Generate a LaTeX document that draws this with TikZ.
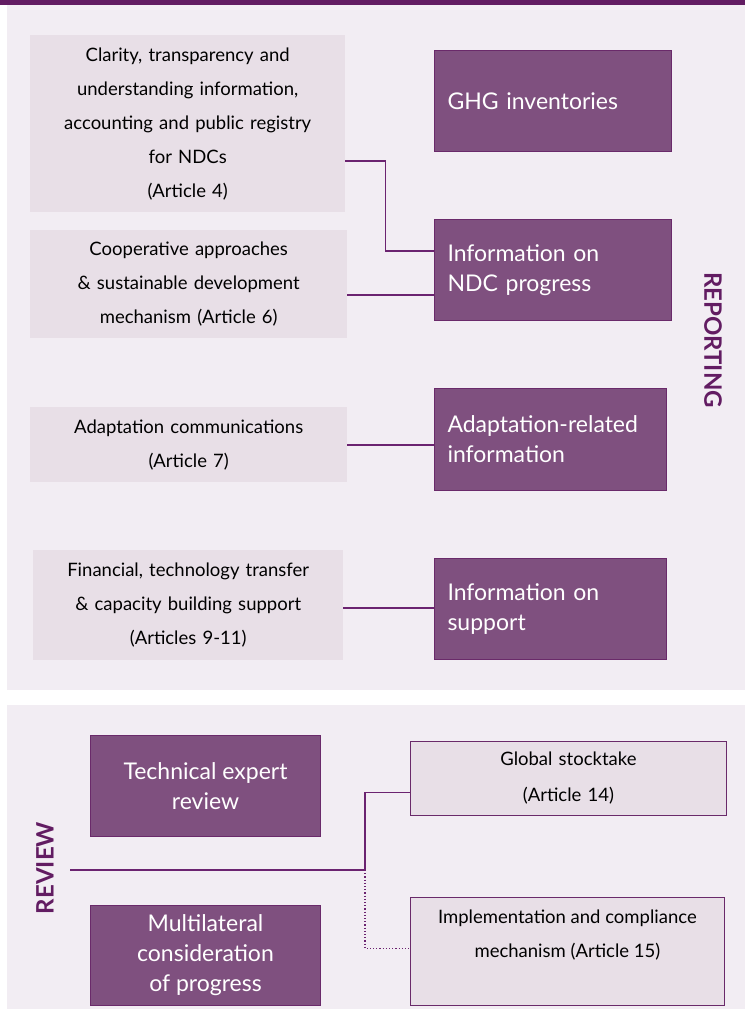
\documentclass[tikz,border=0pt]{standalone}
\usepackage{fontspec}
\setmainfont{Lato}
\definecolor{topbar}{HTML}{621C62}
\definecolor{panelbg}{HTML}{F2EDF3}
\definecolor{lightbox}{HTML}{E8DFE7}
\definecolor{darkbox}{HTML}{7F507F}
\definecolor{darkedge}{HTML}{6A2A6A}
\definecolor{linkcol}{HTML}{6B2370}
\tikzset{
  srcbox/.style={fill=lightbox, anchor=north west, inner sep=0pt, align=center,
    font=\fontsize{18.5}{34}\selectfont},
  reviewbox/.style={srcbox, draw=darkedge, line width=0.8pt, font=\fontsize{18.5}{36}\selectfont},
  outbox/.style={fill=darkbox, draw=darkedge, line width=1pt, anchor=north west,
    text=white, inner xsep=13pt, inner ysep=0pt, align=left,
    font=\fontsize{23}{30}\selectfont},
  bodybox/.style={outbox, align=center, inner xsep=0pt},
  sidelabel/.style={text=topbar, font=\fontsize{24}{24}\selectfont\bfseries},
  link/.style={draw=linkcol, line width=1.6pt}
}
\begin{document}
\begin{tikzpicture}[x=1pt, y=-1pt]
  \useasboundingbox[fill=white] (0,0) rectangle (745,1009);
  % panels
  \fill[panelbg] (7,5) rectangle (745,690);
  \fill[panelbg] (7,705) rectangle (745,1009);
  \fill[topbar] (0,0) rectangle (745,5);

  % reporting
  \node[srcbox, minimum width=315pt, minimum height=177pt, text width=305pt] (clarity) at (30,35)
    {Clarity, transparency and\\understanding information,\\accounting and public registry\\for NDCs\\(Article 4)};
  \node[srcbox, minimum width=317pt, minimum height=108pt, text width=305pt] (coop) at (30,230)
    {Cooperative approaches\\\& sustainable development\\mechanism (Article 6)};
  \node[srcbox, minimum width=317pt, minimum height=75pt, text width=305pt] (adapt) at (30,407)
    {Adaptation communications\\(Article 7)};
  \node[srcbox, minimum width=310pt, minimum height=110pt, text width=300pt] (finance) at (33,550)
    {Financial, technology transfer\\\& capacity building support\\(Articles 9-11)};

  \node[outbox, text width=211pt, minimum height=101pt] (ghg) at (434,50) {GHG inventories};
  \node[outbox, text width=211pt, minimum height=101pt] (ndc) at (434,219) {Information on\\NDC progress};
  \node[outbox, text width=206pt, minimum height=102pt] (adaptinfo) at (434,388) {Adaptation-related\\information};
  \node[outbox, text width=206pt, minimum height=101pt] (support) at (434,558) {Information on\\support};

  \node[sidelabel, rotate=-90] (reporting) at (713,340) {REPORTING};

  \draw[link] ([yshift=-37pt]clarity.east) -- ++(40,0) |- ([yshift=19pt]ndc.west);
  \draw[link] ([yshift=-11pt]coop.east) coordinate (c) -- (c -| ndc.west);
  \draw[link] (adapt.east) -- (adapt.east -| adaptinfo.west);
  \draw[link] ([yshift=-3pt]finance.east) coordinate (f) -- (f -| support.west);

  % review
  \node[bodybox, minimum width=230pt, minimum height=101pt] (expert) at (90,735) {Technical expert\\review};
  \node[bodybox, minimum width=230pt, minimum height=100pt] (multi) at (90,905) {Multilateral\\consideration\\of progress};
  \node[reviewbox, minimum width=316pt, minimum height=74pt, text width=300pt] (stocktake) at (410,741)
    {Global stocktake\\(Article 14)};
  \node[reviewbox, minimum width=314pt, minimum height=108pt] (comply) at (410,897) {};
  \node[align=center, font=\fontsize{18.5}{34}\selectfont, anchor=north] (complytext) at ([yshift=-9pt]comply.north)
    {Implementation and compliance\\mechanism (Article 15)};

  \node[sidelabel, rotate=90] (review) at (45,868) {REVIEW};

  \coordinate (revstart) at (70,870);
  \coordinate (revsplit) at (365,870);
  \draw[link] (revstart) -- (revsplit) |- ([yshift=-14pt]stocktake.west);
  \draw[draw=linkcol, line width=1.2pt, dotted] (revsplit) |- ([yshift=3pt]comply.west);
\end{tikzpicture}
\end{document}
